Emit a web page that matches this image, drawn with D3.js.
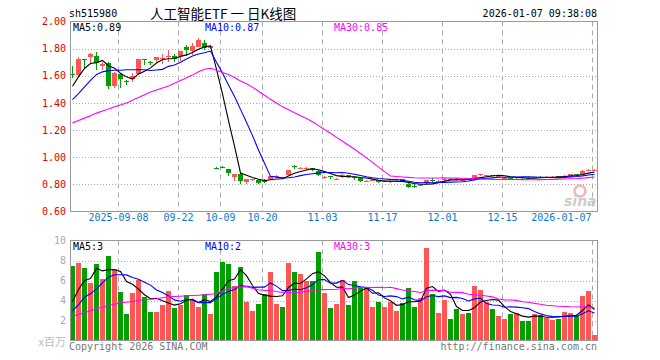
<!DOCTYPE html>
<html><head><meta charset="utf-8">
<script src="https://cdn.jsdelivr.net/npm/d3@7"></script>
<style>
body{margin:0;background:#fff;}
svg{display:block;}
text{font-family:"DejaVu Sans Mono",monospace;font-size:10px;}
</style>
</head><body>
<svg id="c" width="660" height="360"></svg>
<script>
const dates = [
"2025-08-27","2025-08-28","2025-08-29",
"2025-09-01","2025-09-02","2025-09-03","2025-09-04","2025-09-05",
"2025-09-08","2025-09-09","2025-09-10","2025-09-11","2025-09-12",
"2025-09-15","2025-09-16","2025-09-17","2025-09-18","2025-09-19",
"2025-09-22","2025-09-23","2025-09-24","2025-09-25","2025-09-26",
"2025-09-29","2025-09-30",
"2025-10-09","2025-10-10",
"2025-10-13","2025-10-14","2025-10-15","2025-10-16","2025-10-17",
"2025-10-20","2025-10-21","2025-10-22","2025-10-23","2025-10-24",
"2025-10-27","2025-10-28","2025-10-29","2025-10-30","2025-10-31",
"2025-11-03","2025-11-04","2025-11-05","2025-11-06","2025-11-07",
"2025-11-10","2025-11-11","2025-11-12","2025-11-13","2025-11-14",
"2025-11-17","2025-11-18","2025-11-19","2025-11-20","2025-11-21",
"2025-11-24","2025-11-25","2025-11-26","2025-11-27","2025-11-28",
"2025-12-01","2025-12-02","2025-12-03","2025-12-04","2025-12-05",
"2025-12-08","2025-12-09","2025-12-10","2025-12-11","2025-12-12",
"2025-12-15","2025-12-16","2025-12-17","2025-12-18","2025-12-19",
"2025-12-22","2025-12-23","2025-12-24","2025-12-25","2025-12-26",
"2025-12-29","2025-12-30","2025-12-31",
"2026-01-05","2026-01-06","2026-01-07"];

const openP = [1.615,1.60,1.72,1.735,1.745,1.67,1.695,1.525,1.615,1.56,
1.575,1.61,1.72,1.705,1.71,1.725,1.74,1.745,1.74,1.815,
1.78,1.815,1.845,1.805,0.922,0.925,0.91,0.85,0.875,0.82,
0.832,0.83,0.828,0.836,0.855,0.852,0.867,0.932,0.92,0.918,
0.917,0.90,0.853,0.858,0.837,0.855,0.868,0.857,0.848,0.823,
0.828,0.83,0.82,0.82,0.822,0.838,0.806,0.785,0.79,0.806,
0.832,0.82,0.83,0.838,0.838,0.833,0.84,0.843,0.865,0.865,
0.868,0.862,0.845,0.846,0.838,0.852,0.848,0.848,0.856,0.852,
0.853,0.858,0.858,0.862,0.873,0.875,0.898,0.902];
const highP = [1.67,1.735,1.725,1.765,1.775,1.70,1.705,1.625,1.62,1.57,
1.62,1.725,1.725,1.71,1.74,1.76,1.79,1.76,1.785,1.83,
1.845,1.875,1.86,1.83,0.93,0.935,0.915,0.875,0.885,0.842,
0.84,0.833,0.84,0.862,0.87,0.856,0.908,0.94,0.928,0.926,
0.92,0.905,0.86,0.865,0.845,0.875,0.87,0.86,0.85,0.83,
0.835,0.833,0.83,0.828,0.83,0.84,0.81,0.80,0.80,0.835,
0.845,0.83,0.848,0.845,0.848,0.84,0.85,0.87,0.88,0.872,
0.872,0.868,0.855,0.85,0.845,0.855,0.852,0.856,0.86,0.858,
0.86,0.86,0.87,0.878,0.876,0.905,0.91,0.91];
const lowP = [1.58,1.595,1.65,1.69,1.645,1.645,1.505,1.51,1.51,1.53,
1.555,1.605,1.68,1.68,1.70,1.69,1.70,1.705,1.71,1.745,
1.75,1.81,1.79,1.80,0.915,0.918,0.865,0.825,0.805,0.80,
0.826,0.805,0.81,0.83,0.85,0.845,0.862,0.915,0.91,0.905,
0.897,0.86,0.84,0.84,0.83,0.85,0.85,0.835,0.82,0.815,
0.825,0.81,0.815,0.81,0.815,0.815,0.775,0.77,0.785,0.80,
0.82,0.815,0.825,0.83,0.83,0.83,0.83,0.84,0.86,0.86,
0.858,0.858,0.84,0.835,0.83,0.84,0.84,0.845,0.85,0.848,
0.85,0.85,0.855,0.858,0.865,0.872,0.895,0.898];
const closeP = [1.605,1.72,1.71,1.76,1.69,1.685,1.525,1.62,1.575,1.555,
1.60,1.72,1.715,1.70,1.735,1.73,1.745,1.725,1.78,1.79,
1.82,1.865,1.81,1.82,0.92,0.922,0.877,0.873,0.827,0.84,
0.836,0.81,0.824,0.86,0.865,0.85,0.905,0.928,0.923,0.921,
0.90,0.868,0.857,0.855,0.843,0.872,0.856,0.855,0.825,0.826,
0.832,0.813,0.823,0.824,0.825,0.818,0.782,0.782,0.795,0.83,
0.83,0.823,0.84,0.836,0.835,0.835,0.837,0.867,0.875,0.868,
0.862,0.864,0.85,0.838,0.842,0.848,0.846,0.852,0.854,0.855,
0.856,0.855,0.865,0.875,0.87,0.90,0.905,0.905];
const volume = [7.5,7.8,7.3,5.8,7.7,6.2,8.5,7.2,4.9,2.7,
4.8,6.1,4.4,2.9,2.9,3.6,5.0,3.3,3.6,4.6,
4.1,3.4,4.7,2.7,6.9,7.9,7.7,5.5,7.4,3.9,
3.0,3.7,4.7,6.9,3.7,3.4,7.8,6.9,6.7,6.0,
6.0,8.8,4.8,3.3,3.7,6.1,3.6,6.0,5.3,5.3,
3.4,3.9,3.4,3.9,3.0,3.8,5.3,3.4,4.3,9.3,
4.7,2.8,4.1,2.2,3.2,2.7,2.8,5.5,5.1,3.9,
3.2,2.5,2.2,2.7,2.8,2.0,2.0,2.7,2.6,2.3,
2.1,2.2,2.9,2.8,2.6,4.5,5.0,0.6];

// moving-average values before enough days are on the chart
const ma5Lead = [1.523,1.592,1.654,1.69];
const ma10Lead = [1.425,1.469,1.518,1.567,1.61,1.629,1.638,1.641,1.641];
const ma30Lead = [1.253,1.27,1.288,1.305,1.325,1.34,1.355,1.372,1.385,1.40,
1.42,1.44,1.46,1.48,1.495,1.51,1.525,1.545,1.565,1.585,
1.605,1.63,1.648,1.655,1.641,1.624,1.61,1.587,1.562];
const vma5Lead = [3.9,5.1,6.0,6.2];
const vma10Lead = [3.0,3.57,4.33,4.67,5.17,5.77,6.33,6.57,6.57];
const vma30Lead = [2.43,2.6,2.77,2.97,3.17,3.33,3.5,3.63,3.77,3.83,
3.9,4.0,4.1,4.13,4.17,4.27,4.37,4.4,4.43,4.47,
4.5,4.53,4.57,4.62,4.67,4.97,5.17,5.33,5.37];

const priceTicks = [0.6,0.8,1.0,1.2,1.4,1.6,1.8,2.0];
const volTicks = [2,4,6,8,10];
const tickDates = ["2025-09-08","2025-09-22","2025-10-09","2025-10-20","2025-11-03","2025-11-17","2025-12-01","2025-12-15","2026-01-07"];
const tickLabels = ["2025-09-08","09-22","10-09","10-20","11-03","11-17","12-01","12-15","2026-01-07"];
const priceLegend = ["MA5:0.89","MA10:0.87","MA30:0.85"];
const volLegend = ["MA5:3","MA10:2","MA30:3"];
const maColors = ["#000000","#0000ff","#ff00ff"];

const svg = d3.select("#c");
const L = 70, R = 598;
const x = d3.scaleBand().domain(dates).range([L, R]).padding(0);
const bw = 5;
const cx = d => x(d) + 2.5;
const y = d3.scaleLinear().domain([0.6, 2.0]).range([211.5, 21.5]);
const yv = d3.scaleLinear().domain([0, 10]).range([340.5, 240.5]);

function ma(vals, n, lead){
  return vals.map((v,i)=> i < n-1 ? lead[i] : d3.mean(vals.slice(i-n+1, i+1)));
}

const up = "#ff5555", down = "#00a000";

// ---- header texts
svg.append("text").attr("x",69).attr("y",17).text("sh515980");
svg.append("text").attr("x",150).attr("y",19)
  .style("font-family","'Noto Sans CJK SC'").style("font-size","13.5px")
  .text("人工智能ETF 一 日K线图");
svg.append("text").attr("x",597).attr("y",17).attr("text-anchor","end").text("2026-01-07 09:38:08");

// ---- grids
function grid(yScale, ticks, top, bottom){
  const g = svg.append("g");
  g.selectAll("line.h").data(ticks.filter(t=> yScale(t) > top+1 && yScale(t) < bottom-1)).join("line")
    .attr("x1",L).attr("x2",R-1).attr("y1",t=>Math.round(yScale(t))+0.5).attr("y2",t=>Math.round(yScale(t))+0.5)
    .attr("stroke","#aaa").attr("stroke-dasharray","1,2");
  g.selectAll("line.v").data(tickDates).join("line")
    .attr("x1",d=>x(d)+0.5).attr("x2",d=>x(d)+0.5).attr("y1",top).attr("y2",bottom)
    .attr("stroke","#aaa").attr("stroke-dasharray","5,4");
}
grid(y, priceTicks, 21.5, 211.5);
grid(yv, volTicks, 240.5, 340.5);

// ---- candles
const idx = d3.range(dates.length);
const cg = svg.append("g").attr("shape-rendering","crispEdges");
const col = i => closeP[i] >= openP[i] ? up : down;
cg.selectAll("line.w").data(idx).join("line")
  .attr("x1",i=>x(dates[i])+2.5).attr("x2",i=>x(dates[i])+2.5)
  .attr("y1",i=>Math.round(y(highP[i]))).attr("y2",i=>Math.round(y(lowP[i])))
  .attr("stroke",col).attr("stroke-width",1);
cg.selectAll("rect.b").data(idx).join("rect")
  .attr("x",i=>x(dates[i]))
  .attr("width",bw)
  .attr("y",i=>Math.round(y(Math.max(openP[i],closeP[i]))))
  .attr("height",i=>Math.max(1, Math.round(Math.abs(y(openP[i])-y(closeP[i])))))
  .attr("fill",col);

// ---- price MA lines
const pmas = [ma(closeP,5,ma5Lead), ma(closeP,10,ma10Lead), ma(closeP,30,ma30Lead)];
pmas.forEach((m,k)=>{
  svg.append("path").datum(m)
    .attr("d", d3.line().x((v,i)=>cx(dates[i])).y(v=>y(v)))
    .attr("fill","none").attr("stroke",maColors[k]).attr("stroke-width",1.1);
});

// ---- volume bars
const vg = svg.append("g").attr("shape-rendering","crispEdges");
vg.selectAll("rect").data(idx).join("rect")
  .attr("x",i=>x(dates[i])).attr("width",bw)
  .attr("y",i=>Math.round(yv(volume[i]))).attr("height",i=>Math.round(yv(0)-yv(volume[i])))
  .attr("fill",i=> closeP[i] >= openP[i] ? up : down);
const vmas = [ma(volume,5,vma5Lead), ma(volume,10,vma10Lead), ma(volume,30,vma30Lead)];
vmas.forEach((m,k)=>{
  svg.append("path").datum(m)
    .attr("d", d3.line().x((v,i)=>cx(dates[i])).y(v=>yv(v)))
    .attr("fill","none").attr("stroke",maColors[k]).attr("stroke-width",1.1);
});

// ---- frames
svg.append("rect").attr("x",L+0.5).attr("y",21.5).attr("width",R-L-1).attr("height",190)
  .attr("fill","none").attr("stroke","#999");
svg.append("rect").attr("x",L+0.5).attr("y",240.5).attr("width",R-L-1).attr("height",100)
  .attr("fill","none").attr("stroke","#999");

// ---- axes
const ay = svg.append("g").attr("transform",`translate(${L},0)`)
  .call(d3.axisLeft(y).tickValues(priceTicks).tickFormat(d3.format(".2f")).tickSize(0).tickPadding(4));
ay.select(".domain").remove();
ay.selectAll("text").attr("fill","#e00000").style("font-family","'DejaVu Sans Mono',monospace").style("font-size","10px");

const av = svg.append("g").attr("transform",`translate(${L},0)`)
  .call(d3.axisLeft(yv).tickValues(volTicks).tickFormat(d3.format("d")).tickSize(0).tickPadding(4));
av.select(".domain").remove();
av.selectAll("text").attr("fill","#aaa").style("font-family","'DejaVu Sans Mono',monospace").style("font-size","10px");

const ax = svg.append("g").attr("transform","translate(0,212)")
  .call(d3.axisBottom(x).tickValues(tickDates).tickFormat((d,i)=>tickLabels[i]).tickSize(0).tickPadding(2));
ax.select(".domain").remove();
ax.selectAll(".tick").attr("transform", d=>`translate(${x(d)+0.5},0)`);
ax.selectAll("text").attr("fill","#0a78d0").style("font-family","'DejaVu Sans Mono',monospace").style("font-size","10px");
ax.selectAll(".tick").filter(d=>d===tickDates[tickDates.length-1]).select("text")
  .attr("text-anchor","end").attr("x",-1);

// ---- legends
const lx = [73, 205, 334];
priceLegend.forEach((t,k)=> svg.append("text").attr("x",lx[k]).attr("y",31).attr("fill",maColors[k]).text(t));
volLegend.forEach((t,k)=> svg.append("text").attr("x",lx[k]).attr("y",250).attr("fill",maColors[k]).text(t));

// ---- footer
svg.append("text").attr("x",66).attr("y",346).attr("text-anchor","end")
  .style("font-family","'Noto Sans CJK SC'").style("font-size","11px").attr("fill","#bbb").text("x百万");
svg.append("text").attr("x",69).attr("y",350).attr("fill","#777").text("Copyright 2026 SINA.COM");
svg.append("text").attr("x",597).attr("y",350).attr("text-anchor","end").attr("fill","#777").text("http://finance.sina.com.cn");

// ---- watermark
svg.append("circle").attr("cx",580).attr("cy",191).attr("r",5.5).attr("fill","none").attr("stroke","#f3b5b5").attr("stroke-width",2.5);
svg.append("text").attr("x",564).attr("y",206).attr("fill","#ccc")
  .style("font-family","'DejaVu Sans'").style("font-size","14px").style("font-style","italic").style("font-weight","bold").text("sina");
</script>
</body></html>
